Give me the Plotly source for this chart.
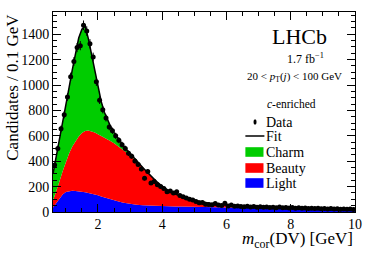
import plotly.graph_objects as go

# ---- data (bin centres, 0.1 GeV bins) ----
data_x = [round(0.65 + 0.1 * i, 2) for i in range(94)]
data_y = [370, 500, 655, 765, 905, 1065, 1185, 1295, 1310, 1470,
          1425, 1325, 1220, 1025, 880, 805, 740, 670, 640, 600,
          565, 530, 500, 462, 440, 402, 375, 339, 265, 318,
          228, 240, 215, 200, 185, 160, 165, 150, 160, 130,
          121, 110, 100, 95, 82, 72, 75, 62, 60, 58,
          66, 55, 52, 68, 48, 55, 45, 47, 44, 42,
          45, 40, 43, 38, 42, 37, 40, 35, 38, 34,
          40, 33, 36, 32, 35, 30, 33, 29, 32, 28,
          30, 27, 29, 25, 28, 24, 27, 23, 25, 22,
          24, 21, 23, 20]

# ---- fit components ----
fit_x = [0.6, 0.7, 0.8, 0.9, 1.0, 1.1, 1.2, 1.3, 1.4, 1.5,
         1.6, 1.7, 1.8, 1.9, 2.0, 2.1, 2.2, 2.3, 2.4, 2.5,
         2.6, 2.7, 2.8, 2.9, 3.0, 3.2, 3.4, 3.6, 3.8, 4.0,
         4.2, 4.4, 4.6, 4.8, 5.0, 5.25, 5.5, 5.75, 6.0, 6.5,
         7.0, 7.5, 8.0, 8.5, 9.0, 9.5, 10.0]
light = [35, 70, 108, 138, 157, 165, 167, 166, 164, 160,
         155, 150, 145, 139, 131, 123, 115, 107, 99, 92,
         85, 79, 73, 68, 64, 58, 54, 51, 48, 46,
         45, 44, 43, 42, 41, 40, 38, 36, 34, 30,
         26, 24, 21, 19, 17, 15, 14]
beauty = [55, 90, 132, 182, 238, 295, 348, 394, 431, 462,
          482, 491, 492, 488, 482, 477, 472, 466, 459, 449,
          438, 426, 414, 399, 383, 342, 291, 241, 194, 154,
          120, 96, 77, 62, 49, 37, 28, 22, 18, 15,
          14, 12, 11, 10, 9, 8, 7]
charm = [210, 270, 320, 380, 445, 520, 605, 690, 775, 818,
         828, 724, 603, 483, 367, 270, 198, 147, 110, 84,
         65, 48, 33, 21, 11, 5, 3, 3, 3, 3,
         3, 2, 2, 2, 2, 1, 1, 1, 1, 1,
         1, 1, 1, 1, 1, 1, 1]
fit_total = [l + b + c for l, b, c in zip(light, beauty, charm)]

FONT = "Liberation Serif"
GREEN, RED, BLUE = "#00cc00", "#ff0000", "#0000ff"

fig = go.Figure()
for name, vals, col in [("Light", light, BLUE), ("Beauty", beauty, RED), ("Charm", charm, GREEN)]:
    fig.add_trace(go.Scatter(x=fit_x, y=vals, name=name, stackgroup="fit", mode="lines",
                             line=dict(width=0, color=col), fillcolor=col, showlegend=False))
fig.add_trace(go.Scatter(x=fit_x, y=fit_total, mode="lines", name="Fit",
                         line=dict(color="black", width=1.5), showlegend=False))
fig.add_trace(go.Scatter(x=data_x, y=data_y, mode="markers", name="Data",
                         marker=dict(color="black", size=5),
                         error_y=dict(type="sqrt", color="black", thickness=1, width=0),
                         error_x=dict(type="constant", value=0.05, color="black", thickness=1, width=0),
                         showlegend=False))

axis_common = dict(showline=True, linecolor="black", linewidth=1, mirror="allticks",
                   ticks="inside", ticklen=8, tickwidth=1, tickcolor="black",
                   showgrid=False, zeroline=False,
                   tickfont=dict(family=FONT, size=14, color="black"))
fig.update_xaxes(range=[0.6, 10], tick0=0, dtick=2, ticklabelstandoff=-1,
                 minor=dict(dtick=0.5, ticks="inside", ticklen=4, tickcolor="black", showgrid=False),
                 **axis_common)
fig.update_yaxes(range=[0, 1575], tick0=0, dtick=200,
                 minor=dict(dtick=50, ticks="inside", ticklen=4, tickcolor="black", showgrid=False),
                 **axis_common)

ann = []
ann.append(dict(text="<i>m</i><sub>cor</sub>(DV) [GeV]", xref="paper", yref="paper",
                x=1.0, y=-0.205, xanchor="right", yanchor="bottom", showarrow=False,
                font=dict(family=FONT, size=17, color="black")))
ann.append(dict(text="Candidates / 0.1 GeV", xref="paper", yref="paper", textangle=-90,
                x=-0.135, y=1.0, xanchor="center", yanchor="top", showarrow=False,
                font=dict(family=FONT, size=17, color="black")))
ann.append(dict(text="LHCb", xref="paper", yref="paper", x=0.815, y=0.88, xanchor="center",
                yanchor="middle", showarrow=False, font=dict(family=FONT, size=22, color="black")))
ann.append(dict(text="1.7 fb<sup>−1</sup>", xref="paper", yref="paper", x=0.835, y=0.77,
                xanchor="center", yanchor="middle", showarrow=False,
                font=dict(family=FONT, size=12, color="black")))
ann.append(dict(text="20 &lt; <i>p</i><sub>T</sub>(<i>j</i>) &lt; 100 GeV", xref="paper", yref="paper",
                x=0.8, y=0.675, xanchor="center", yanchor="middle", showarrow=False,
                font=dict(family=FONT, size=11, color="black")))
ann.append(dict(text="<i>c</i>-enriched", xref="paper", yref="paper", x=0.79, y=0.54,
                xanchor="center", yanchor="middle", showarrow=False,
                font=dict(family=FONT, size=11.5, color="black")))

# manual legend (paper coordinates)
leg_items = ["Data", "Fit", "Charm", "Beauty", "Light"]
leg_y = [0.45, 0.38, 0.30, 0.22, 0.145]
text_x = 0.70
shapes = []
for lab, yy in zip(leg_items, leg_y):
    ann.append(dict(text=lab, xref="paper", yref="paper", x=text_x, y=yy, xanchor="left",
                    yanchor="middle", showarrow=False, font=dict(family=FONT, size=14, color="black")))
# symbols
shapes.append(dict(type="circle", xref="paper", yref="paper", x0=0.664, x1=0.674,
                   y0=leg_y[0] - 0.014, y1=leg_y[0] + 0.014, fillcolor="black", line=dict(width=0)))
shapes.append(dict(type="line", xref="paper", yref="paper", x0=0.637, x1=0.70,
                   y0=leg_y[1], y1=leg_y[1], line=dict(color="black", width=1.5)))
for col, yy in zip([GREEN, RED, BLUE], leg_y[2:]):
    shapes.append(dict(type="rect", xref="paper", yref="paper", x0=0.637, x1=0.697,
                       y0=yy - 0.024, y1=yy + 0.024, fillcolor=col, line=dict(width=0)))

fig.update_layout(width=374, height=253, margin=dict(l=53, r=19, t=12, b=41),
                  paper_bgcolor="white", plot_bgcolor="white", showlegend=False,
                  annotations=ann, shapes=shapes,
                  font=dict(family=FONT, color="black"))

fig.write_html("out.html", config={"displayModeBar": False},
               post_script="document.body.style.margin='0';document.body.style.overflow='hidden';")
